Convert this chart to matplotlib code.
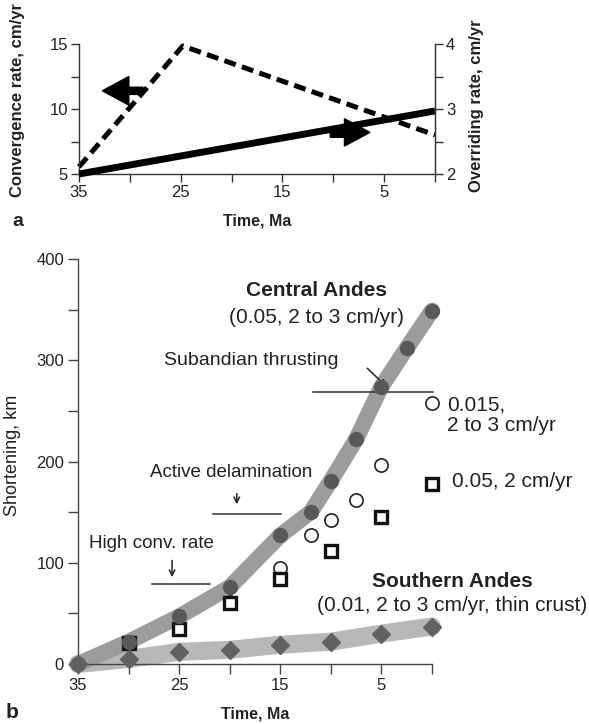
import matplotlib
matplotlib.use("Agg")
import matplotlib.pyplot as plt
from matplotlib.patches import FancyArrow

plt.rcParams['font.family'] = ['Liberation Sans', 'DejaVu Sans']

# ---- Panel a data ----
conv_time = [35, 24.8, 0]
conv_rate = [5.55, 14.85, 8.0]
over_time = [35, 0]
over_rate = [2.0, 2.97]

# ---- Panel b data ----
central_time = [35, 30, 25, 20, 15, 12, 10, 7.5, 5, 2.5, 0]
central_short = [0, 22, 47, 76, 127, 150, 181, 222, 274, 312, 349]

circ_time = [35, 30, 25, 20, 15, 12, 10, 7.5, 5, 0]
circ_short = [0, 22, 36, 61, 95, 127, 142, 162, 197, 258]

sq_time = [30, 25, 20, 15, 10, 5, 0]
sq_short = [21, 35, 60, 84, 112, 145, 178]

south_time = [35, 30, 25, 20, 15, 10, 5, 0]
south_short = [0, 5, 12, 14, 19, 22, 30, 37]

fig = plt.figure(figsize=(5.89, 7.24), dpi=100)
TXT = '#222222'

# ================= Panel a =================
axa = fig.add_axes([79/589, 1-174/724, 356/589, 130/724])
axa.plot(conv_time, conv_rate, color='black', lw=3.6, ls=(0, (2.4, 1.3)), solid_capstyle='butt', clip_on=False)
axa.set_xlim(35, 0)
axa.set_ylim(5, 15)
axa.set_xticks([35, 30, 25, 20, 15, 10, 5, 0])
axa.set_xticklabels(['35', '', '25', '', '15', '', '5', ''])
axa.set_yticks([5, 7.5, 10, 12.5, 15])
axa.set_yticklabels(['5', '', '10', '', '15'])
axa.spines['top'].set_visible(False)
for s in ['left', 'bottom', 'right']:
    axa.spines[s].set_color('#333333')
    axa.spines[s].set_linewidth(1.0)
axa.tick_params(direction='out', length=6, width=1.0, color='#333333', labelsize=12,
                labelcolor=TXT, pad=2)
fig.text(18/589, 1-100/724, 'Convergence rate, cm/yr', fontsize=12, fontweight='bold',
         color=TXT, rotation=90, ha='center', va='center')
axa.set_xlabel('Time, Ma', fontsize=11.5, fontweight='bold', labelpad=10, color=TXT)

axr = axa.twinx()
axr.plot(over_time, over_rate, color='black', lw=5, solid_capstyle='butt', clip_on=False)
axr.set_ylim(2, 4)
axr.set_yticks([2, 2.5, 3, 3.5, 4])
axr.set_yticklabels(['2', '', '3', '', '4'])
for s in ['top', 'left', 'bottom']:
    axr.spines[s].set_visible(False)
axr.spines['right'].set_color('#333333')
axr.tick_params(direction='out', length=6, width=1.0, color='#333333', labelsize=12,
                labelcolor=TXT, pad=2)
fig.text(477/589, 1-106/724, 'Overriding rate, cm/yr', fontsize=12, fontweight='bold',
         color=TXT, rotation=90, ha='center', va='center')

# direction arrows (x axis inverted: +dx points left)
axa.add_patch(FancyArrow(28.7, 11.4, 4.0, 0, width=0.55, head_width=2.2, head_length=2.6,
                         color='black', length_includes_head=True, clip_on=False, zorder=5))
axa.add_patch(FancyArrow(10.3, 8.2, -3.9, 0, width=0.75, head_width=2.1, head_length=2.5,
                         color='black', length_includes_head=True, clip_on=False, zorder=5))

fig.text(12/589, 1-222/724, 'a', fontsize=14, fontweight='bold', va='center', ha='left', color=TXT)

# ================= Panel b =================
axb = fig.add_axes([78/589, 1-664/724, 354/589, 405/724])
axb.plot(south_time, south_short, color='#b8b8b8', lw=13, solid_capstyle='round',
         solid_joinstyle='round', zorder=1, clip_on=False)
axb.plot(central_time, central_short, color='#9c9c9c', lw=11.5, solid_capstyle='round',
         solid_joinstyle='round', zorder=2, clip_on=False)
axb.plot(circ_time, circ_short, ls='none', marker='o', ms=9.5, mfc='white', mec='#222222',
         mew=1.2, zorder=3, clip_on=False)
axb.plot(sq_time, sq_short, ls='none', marker='s', ms=8.5, mfc='white', mec='#111111',
         mew=2.4, zorder=4, clip_on=False)
axb.plot(central_time, central_short, ls='none', marker='o', ms=10, mfc='#585858',
         mec='#585858', zorder=5, clip_on=False)
axb.plot(south_time, south_short, ls='none', marker='D', ms=9.2, mfc='#616161',
         mec='#616161', zorder=5, clip_on=False)

axb.set_xlim(35, 0)
axb.set_ylim(0, 400)
axb.set_xticks([35, 30, 25, 20, 15, 10, 5, 0])
axb.set_xticklabels(['35', '', '25', '', '15', '', '5', ''])
axb.set_yticks([0, 50, 100, 150, 200, 250, 300, 350, 400])
axb.set_yticklabels(['0', '', '100', '', '200', '', '300', '', '400'])
for s in ['top', 'right']:
    axb.spines[s].set_visible(False)
for s in ['left', 'bottom']:
    axb.spines[s].set_color('#444444')
    axb.spines[s].set_linewidth(1.0)
axb.tick_params(direction='out', length=7, width=1.0, color='#444444', labelsize=12,
                labelcolor=TXT, pad=3)
fig.text(13/589, 1-455/724, 'Shortening, km', fontsize=13, color=TXT, rotation=90,
         ha='center', va='center')
axb.set_xlabel('Time, Ma', fontsize=11.5, fontweight='bold', labelpad=10, color=TXT)

# annotations
axb.text(11.4, 369, 'Central Andes', fontsize=15, fontweight='bold', ha='center', va='center', color=TXT)
axb.text(11.4, 342, '(0.05, 2 to 3 cm/yr)', fontsize=15, ha='center', va='center', color=TXT)

axb.text(17.9, 300, 'Subandian thrusting', fontsize=14, ha='center', va='center', color=TXT)
axb.plot([11.8, -0.1], [269, 269], color='#333333', lw=1.1, clip_on=False)
axb.annotate('', xy=(4.3, 272), xytext=(6.6, 294),
             arrowprops=dict(arrowstyle='->', color=TXT, lw=1.1))

axb.text(-1.5, 256, '0.015,', fontsize=15, ha='left', va='center', color=TXT, clip_on=False)
axb.text(-1.5, 236, '2 to 3 cm/yr', fontsize=15, ha='left', va='center', color=TXT, clip_on=False)
axb.text(-2.0, 180, '0.05, 2 cm/yr', fontsize=15, ha='left', va='center', color=TXT, clip_on=False)

axb.text(19.85, 189, 'Active delamination', fontsize=13.5, ha='center', va='center', color=TXT)
axb.plot([21.7, 14.9], [148, 148], color='#333333', lw=1.1)
axb.annotate('', xy=(19.3, 155), xytext=(19.3, 171),
             arrowprops=dict(arrowstyle='->', color=TXT, lw=1.1))

axb.text(27.7, 119.5, 'High conv. rate', fontsize=13.6, ha='center', va='center', color=TXT)
axb.plot([27.7, 21.9], [79, 79], color='#333333', lw=1.1)
axb.annotate('', xy=(25.7, 83), xytext=(25.7, 105),
             arrowprops=dict(arrowstyle='->', color=TXT, lw=1.1))

axb.text(-2.0, 81, 'Southern Andes', fontsize=15, fontweight='bold', ha='center', va='center', color=TXT, clip_on=False)
axb.text(-2.0, 58, '(0.01, 2 to 3 cm/yr, thin crust)', fontsize=15, ha='center', va='center', color=TXT, clip_on=False)

fig.text(6/589, 1-713/724, 'b', fontsize=15, fontweight='bold', va='center', ha='left', color=TXT)

fig.savefig('out.png', dpi=100)
